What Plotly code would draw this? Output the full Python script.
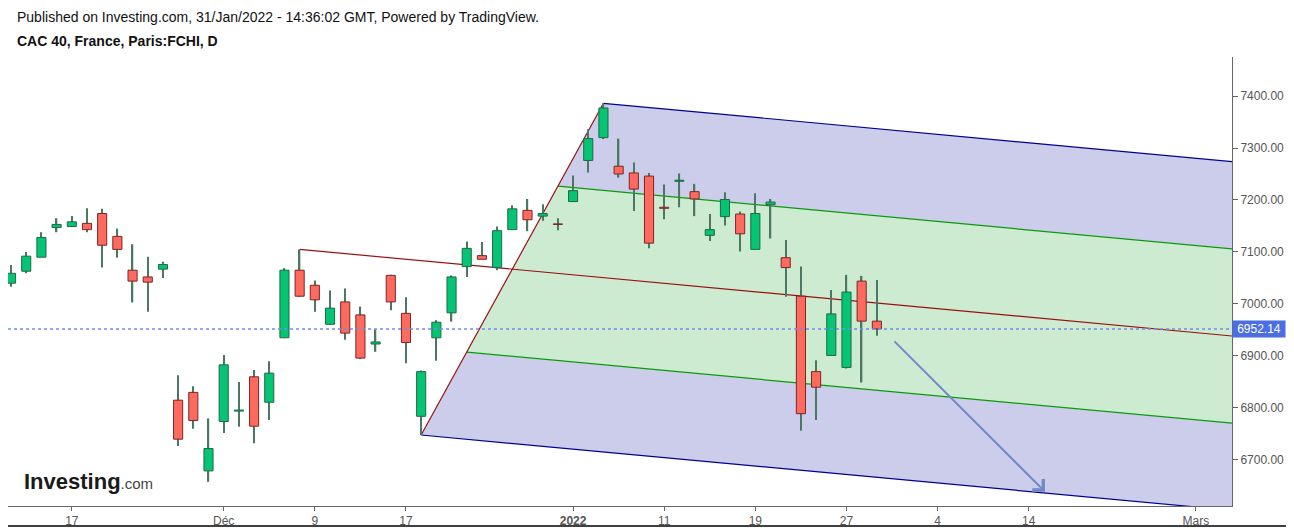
import plotly.graph_objects as go

# ---- data (bar index 0 = 11 Nov 2021, trading days only) ----
idx = list(range(58))
opens = [7040, 7063, 7090, 7147, 7149, 7155, 7174, 7130, 7065, 7052, 7067,
         6815, 6830, 6679, 6774, 6794, 6860, 6811, 6935, 7065, 7036, 6961,
         7004, 6979, 6923, 7055, 6982, 6784, 6935, 6983, 7072, 7093, 7070,
         7143, 7180, 7169, 7154, 7197, 7276, 7320, 7265, 7252, 7246, 7186,
         7236, 7216, 7132, 7168, 7173, 7105, 7191, 7089, 7015, 6870, 6901,
         6878, 7044, 6967]
highs = [7075, 7100, 7138, 7165, 7169, 7184, 7183, 7145, 7115, 7091, 7081,
         6863, 6842, 6780, 6902, 6850, 6873, 6890, 7069, 7105, 7045, 7026,
         7030, 6995, 6951, 7056, 7013, 6872, 6969, 7055, 7120, 7119, 7149,
         7190, 7202, 7192, 7165, 7247, 7336, 7386, 7318, 7272, 7252, 7230,
         7251, 7231, 7173, 7215, 7178, 7213, 7202, 7123, 7072, 6892, 7027,
         7056, 7054, 7046]
lows = [7033, 7059, 7090, 7138, 7149, 7138, 7070, 7089, 7003, 6985, 7050,
        6727, 6760, 6658, 6752, 6764, 6732, 6777, 6935, 7014, 6985, 6960,
        6931, 6894, 6908, 6988, 6886, 6748, 6891, 6966, 7052, 7086, 7065,
        7143, 7140, 7160, 7142, 7197, 7253, 7317, 7243, 7179, 7107, 7163,
        7186, 7169, 7121, 7151, 7101, 7105, 7126, 7014, 6756, 6777, 6901,
        6876, 6849, 6939]
closes = [7059, 7092, 7128, 7153, 7158, 7143, 7113, 7105, 7044, 7042, 7076,
          6740, 6776, 6722, 6883, 6796, 6765, 6867, 7065, 7015, 7008, 6992,
          6944, 6896, 6927, 7004, 6926, 6870, 6965, 7052, 7107, 7086, 7141,
          7183, 7162, 7174, 7153, 7218, 7318, 7377, 7250, 7221, 7117, 7184,
          7238, 7202, 7143, 7201, 7135, 7174, 7196, 7070, 6789, 6840, 6981,
          7023, 6967, 6952.14]

tick_vals = [4, 14, 20, 26, 37, 43, 49, 55, 61, 67, 78]
tick_text = ["17", "Déc", "9", "17", "<b>2022</b>", "11", "19", "27", "4", "14", "Mars"]
y_ticks = [6700, 6800, 6900, 7000, 7100, 7200, 7300, 7400]

# pitchfork pivots (bar index, price)
P1 = (19, 7105)
P2 = (27, 6748)
P3 = (39, 7386)
last_price = 6952.14
arrow_from = (58.06, 6931)
arrow_to = (68.07, 6639)

X_RANGE = [-0.2, 80.38]
Y_RANGE = [6611.5, 7475]

# ---- colours ----
UP, DOWN = "#05c473", "#ff6a5f"
UP_EDGE, DOWN_EDGE = "#1f6a45", "#7a2626"
WICK = "#4c7763"
LAV, GRN = "#cccdea", "#cdebd0"

# ---- pitchfork geometry ----
mid = ((P2[0] + P3[0]) / 2, (P2[1] + P3[1]) / 2)
slope = (mid[1] - P1[1]) / (mid[0] - P1[0])
q_up = (P2[0] + 0.75 * (P3[0] - P2[0]), P2[1] + 0.75 * (P3[1] - P2[1]))
q_lo = (P2[0] + 0.25 * (P3[0] - P2[0]), P2[1] + 0.25 * (P3[1] - P2[1]))
XE = 90


def ext(p):
    return (XE, p[1] + slope * (XE - p[0]))


fig = go.Figure()


def poly(pts, color):
    path = "M " + " L ".join(f"{p[0]},{p[1]}" for p in pts) + " Z"
    fig.add_shape(type="path", path=path, xref="x", yref="y", fillcolor=color,
                  line=dict(width=0), layer="below")


poly([P3, ext(P3), ext(q_up), q_up], LAV)
poly([q_up, ext(q_up), ext(q_lo), q_lo], GRN)
poly([q_lo, ext(q_lo), ext(P2), P2], LAV)


def seg(a, b, color, w=1.2):
    fig.add_shape(type="line", xref="x", yref="y", x0=a[0], y0=a[1], x1=b[0], y1=b[1],
                  line=dict(color=color, width=w), layer="below")


seg(P3, ext(P3), "#000090")
seg(P2, ext(P2), "#000090")
seg(q_up, ext(q_up), "#0a9a0a")
seg(q_lo, ext(q_lo), "#0a9a0a")
seg(P1, ext(P1), "#9a1010")
seg(P2, P3, "#9a1010")

# wicks (thin bars, drawn under bodies)
fig.add_trace(go.Bar(x=idx, y=[h - l for h, l in zip(highs, lows)], base=lows, width=0.09,
                     marker=dict(color=WICK, line=dict(width=0)),
                     hoverinfo="skip", showlegend=False))

# bodies
base = [min(o, c) for o, c in zip(opens, closes)]
height = [max(abs(c - o), 0.8) for o, c in zip(opens, closes)]
fill = [UP if c >= o else DOWN for o, c in zip(opens, closes)]
edge = [UP_EDGE if c >= o else DOWN_EDGE for o, c in zip(opens, closes)]
fig.add_trace(go.Bar(x=idx, y=height, base=base, width=0.6,
                     marker=dict(color=fill, line=dict(color=edge, width=1)),
                     hoverinfo="skip", showlegend=False))

fig.update_layout(
    width=1286, height=524,
    margin=dict(l=0, r=62, t=49, b=26),
    paper_bgcolor="white", plot_bgcolor="white",
    font=dict(family="Liberation Sans, Arial, sans-serif", size=12, color="#555"),
    showlegend=False, barmode="overlay",
    xaxis=dict(range=X_RANGE, tickvals=tick_vals, ticktext=tick_text,
               showgrid=False, zeroline=False, showline=True, linecolor="#666",
               linewidth=1, ticks="outside", ticklen=4, tickcolor="#666",
               tickfont=dict(size=12, color="#555")),
    yaxis=dict(range=Y_RANGE, side="right", tickvals=y_ticks, tickformat=".2f",
               showgrid=False, zeroline=False, showline=True, linecolor="#666",
               linewidth=1, ticks="outside", ticklen=5, tickcolor="#666",
               tickfont=dict(size=12, color="#555")),
)

# last price dotted line + label
fig.add_shape(type="line", xref="paper", x0=0, x1=1, yref="y", y0=last_price, y1=last_price,
              line=dict(color="#6f8ee6", width=1.5, dash="dot"), layer="above")
fig.add_annotation(xref="paper", x=1.0, yref="y", y=last_price, xanchor="left",
                   text=f"{last_price:.2f}", showarrow=False, bgcolor="#4b6ee3",
                   font=dict(color="white", size=12), width=50, height=14, borderpad=1)

# arrow
fig.add_annotation(x=arrow_to[0], y=arrow_to[1], ax=arrow_from[0], ay=arrow_from[1],
                   xref="x", yref="y", axref="x", ayref="y", text="", showarrow=True,
                   arrowhead=4, arrowsize=1.5, arrowwidth=2, arrowcolor="#6f89c9")

# frame (right & bottom)
fig.add_shape(type="line", xref="paper", yref="paper", x0=1.0449, x1=1.0449, y0=1, y1=-0.0445,
              line=dict(color="black", width=1.5))
fig.add_shape(type="line", xref="paper", yref="paper", x0=0, x1=1.0449, y0=-0.0445, y1=-0.0445,
              line=dict(color="black", width=1.5))

# header texts
fig.add_annotation(xref="paper", yref="paper", x=0.0057, y=1.089, xanchor="left", yanchor="middle",
                   text="Published on Investing.com, 31/Jan/2022 - 14:36:02 GMT, Powered by TradingView.",
                   showarrow=False, font=dict(size=14, color="#111"))
fig.add_annotation(xref="paper", yref="paper", x=0.0057, y=1.0356, xanchor="left", yanchor="middle",
                   text="<b>CAC 40, France, Paris:FCHI, D</b>",
                   showarrow=False, font=dict(size=14, color="#111"))
# logo
fig.add_annotation(xref="paper", yref="paper", x=0.0114, y=(506 - 481) / 449, xanchor="left",
                   yanchor="middle",
                   text="<b>Investing</b><span style='font-size:15px;color:#444'>.com</span>",
                   showarrow=False, font=dict(size=22, color="#1a1a1a"))

fig.write_html("out.html")
